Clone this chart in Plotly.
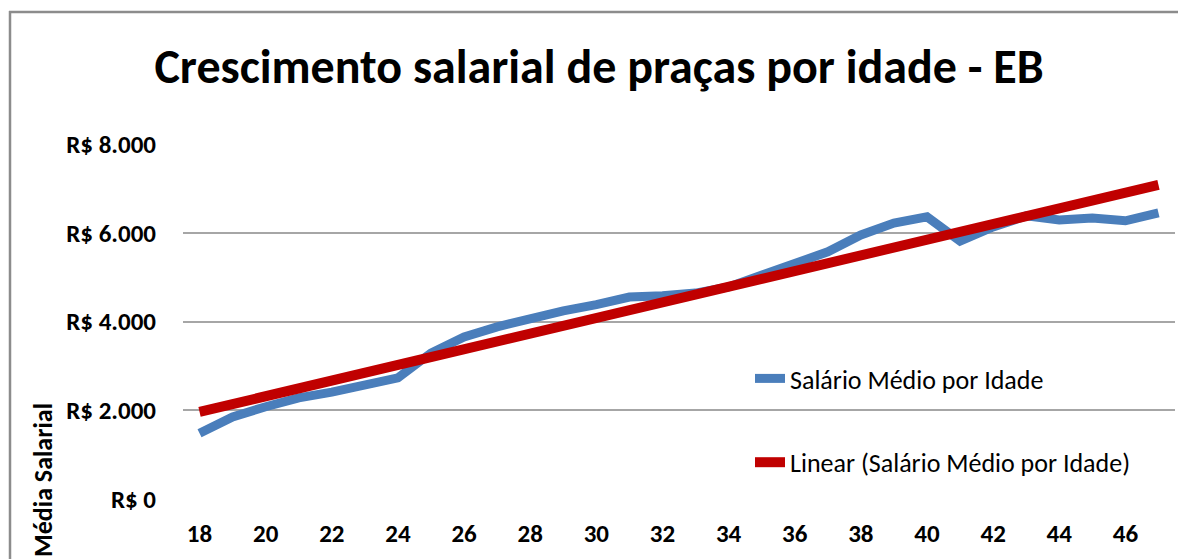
import numpy as np
import plotly.graph_objects as go

# ---- data ----
idades = list(range(18, 48))
salario_medio = [1480, 1850, 2080, 2280, 2410, 2570, 2730, 3290, 3650, 3880,
                 4080, 4240, 4380, 4550, 4580, 4640, 4780, 5050, 5320, 5570,
                 5950, 6220, 6360, 5810, 6130, 6380, 6290, 6330, 6270, 6450]
y_tick_vals = [0, 2000, 4000, 6000, 8000]
y_tick_text = ["R$ 0", "R$ 2.000", "R$ 4.000", "R$ 6.000", "R$ 8.000"]
x_tick_vals = list(range(18, 47, 2))

titulo = "Crescimento salarial de praças por idade - EB"
nome_serie = "Salário Médio por Idade"
nome_tendencia = "Linear (Salário Médio por Idade)"
titulo_y = "Média Salarial"

# linear trendline (least squares) computed from the series
coef = np.polyfit(idades, salario_medio, 1)
tendencia = list(np.polyval(coef, idades))

FONT = "Carlito, Liberation Sans Narrow, Open Sans, sans-serif"
W, H = 1178, 559
L, R, T, B = 183, 3, 144, 60
pw, ph = W - L - R, H - T - B

def px_x(p):
    return (p - L) / pw

def px_y(p):
    return (H - B - p) / ph

fig = go.Figure()
fig.add_trace(go.Scatter(
    x=idades, y=salario_medio, mode="lines", name=nome_serie,
    line=dict(color="#4A7EBB", width=9), legendgroup="a"))
fig.add_trace(go.Scatter(
    x=idades, y=tendencia, mode="lines", name=nome_tendencia,
    line=dict(color="#C00000", width=10), legendgroup="b"))

border = dict(color="#8C8C8C", width=2.5)

fig.update_layout(
    width=W, height=H,
    margin=dict(l=L, r=R, t=T, b=B, pad=0),
    paper_bgcolor="white", plot_bgcolor="white",
    font=dict(family=FONT, color="black"),
    title=dict(text="<b>" + titulo + "</b>", xref="paper", x=px_x(599), xanchor="center",
               yref="container", y=1 - 66 / H, yanchor="middle",
               font=dict(size=48, family=FONT, color="black")),
    showlegend=True,
    legend=dict(x=px_x(750), y=px_y(355), xanchor="left", yanchor="top",
                font=dict(size=26, family=FONT, color="black"),
                bgcolor="rgba(0,0,0,0)", tracegroupgap=47, itemwidth=30),
    xaxis=dict(range=[17.5, 47.5], tickvals=x_tick_vals, showgrid=False,
               zeroline=False, showline=False, ticks="",
               tickfont=dict(size=25, family=FONT, color="black", weight="bold"),
               ticklabelstandoff=17, fixedrange=True),
    yaxis=dict(range=[0, 8000], tickvals=y_tick_vals, ticktext=y_tick_text,
               showgrid=True, gridcolor="#A6A6A6", gridwidth=1.5,
               zeroline=False, showline=False, ticks="",
               tickfont=dict(size=25, family=FONT, color="black", weight="bold"),
               ticklabelstandoff=26, fixedrange=True),
    shapes=[
        dict(type="line", xref="paper", yref="paper",
             x0=px_x(9), x1=px_x(1250), y0=px_y(12), y1=px_y(12),
             line=border, layer="below"),
        dict(type="line", xref="paper", yref="paper",
             x0=px_x(10), x1=px_x(10), y0=px_y(11), y1=px_y(620),
             line=border, layer="below"),
    ],
    annotations=[dict(text="<b>" + titulo_y + "</b>", xref="paper", yref="paper",
                      x=px_x(43), y=px_y(480), textangle=-90, showarrow=False,
                      xanchor="center", yanchor="middle",
                      font=dict(size=26, family=FONT, color="black"))],
)

fig.write_html(
    "out.html",
    config={"displayModeBar": False},
    post_script="document.body.style.margin='0';document.body.style.overflow='hidden';",
)
